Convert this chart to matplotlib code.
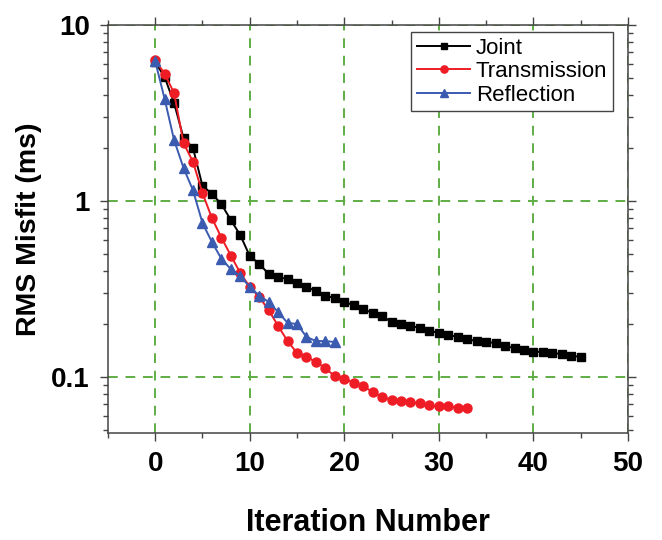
### IMPORTS
import matplotlib
matplotlib.use("Agg")
import matplotlib.pyplot as plt
from matplotlib.ticker import FixedLocator, LogLocator, NullFormatter, MultipleLocator

plt.rcParams['font.family'] = ['Liberation Sans', 'DejaVu Sans']

#### DATA
# RMS misfit (ms) per iteration for each inversion
joint_misfit = [6.16, 5.06, 3.60, 2.28, 2.00, 1.22, 1.10, 0.96, 0.78, 0.64,
                0.487, 0.44, 0.385, 0.37, 0.36, 0.342, 0.325, 0.308, 0.289, 0.281,
                0.267, 0.256, 0.243, 0.231, 0.222, 0.205, 0.200, 0.195, 0.190, 0.183,
                0.178, 0.173, 0.169, 0.164, 0.160, 0.158, 0.156, 0.150, 0.146, 0.142,
                0.139, 0.139, 0.137, 0.135, 0.132, 0.130]
transmission_misfit = [6.3, 5.3, 4.1, 2.13, 1.67, 1.11, 0.80, 0.62, 0.49, 0.39,
                       0.325, 0.285, 0.24, 0.195, 0.16, 0.137, 0.13, 0.122, 0.112, 0.101,
                       0.0975, 0.093, 0.089, 0.082, 0.077, 0.074, 0.073, 0.072, 0.071, 0.069,
                       0.068, 0.068, 0.067, 0.067]
reflection_misfit = [6.24, 3.8, 2.22, 1.54, 1.15, 0.75, 0.585, 0.47, 0.41, 0.375,
                     0.325, 0.29, 0.267, 0.234, 0.203, 0.20, 0.169, 0.16, 0.16, 0.158]

series_names = ["Joint", "Transmission", "Reflection"]
x_ticks = [0, 10, 20, 30, 40, 50]
y_ticks = [0.1, 1, 10]
y_tick_labels = ["0.1", "1", "10"]

#### PLOT
fig = plt.figure(figsize=(6.62, 5.40), dpi=100)
ax = fig.add_axes([0.163, 0.198, 0.7856, 0.7556])

ax.plot(range(len(joint_misfit)), joint_misfit, color='black', marker='s',
        markersize=6, linewidth=1.4, label=series_names[0])
ax.plot(range(len(transmission_misfit)), transmission_misfit, color='#ee1c24', marker='o',
        markersize=6.5, linewidth=1.4, label=series_names[1])
ax.plot(range(len(reflection_misfit)), reflection_misfit, color='#3b5bb0', marker='^',
        markersize=6.5, linewidth=1.4, label=series_names[2])

ax.set_yscale('log')
ax.set_xlim(-5, 50)
ax.set_ylim(0.048, 10)

# Ticks on all sides, pointing out
ax.xaxis.set_major_locator(FixedLocator(x_ticks))
ax.xaxis.set_minor_locator(MultipleLocator(5))
ax.yaxis.set_major_locator(FixedLocator(y_ticks))
ax.set_yticklabels(y_tick_labels)
ax.yaxis.set_minor_locator(LogLocator(base=10, subs=range(2, 10)))
ax.yaxis.set_minor_formatter(NullFormatter())
ax.tick_params(which='both', direction='out', top=True, right=True,
               color='#444444', width=1)
ax.tick_params(which='major', length=6, labelsize=20, pad=7)
ax.tick_params(which='minor', length=3.5)
for lab in ax.get_xticklabels() + ax.get_yticklabels():
    lab.set_fontweight('bold')

for side in ax.spines.values():
    side.set_color('#444444')
    side.set_linewidth(1.1)

# Green dashed grid on major ticks
ax.grid(True, which='major', color='#5fae45', linestyle=(0, (5, 4)), linewidth=1.4)

ax.set_xlabel('Iteration Number', fontsize=22, fontweight='bold', labelpad=22)
ax.set_ylabel('RMS Misfit (ms)', fontsize=20.5, fontweight='bold', labelpad=7)

leg = ax.legend(loc='upper right', bbox_to_anchor=(0.971, 0.983), fontsize=16,
                handlelength=2.4, handletextpad=0.25, borderpad=0.25, labelspacing=0.12,
                borderaxespad=0.0, fancybox=False, framealpha=1, markerscale=0.8)
leg.get_frame().set_edgecolor('#444444')
leg.get_frame().set_linewidth(1.0)

fig.savefig('out.png', dpi=100)
